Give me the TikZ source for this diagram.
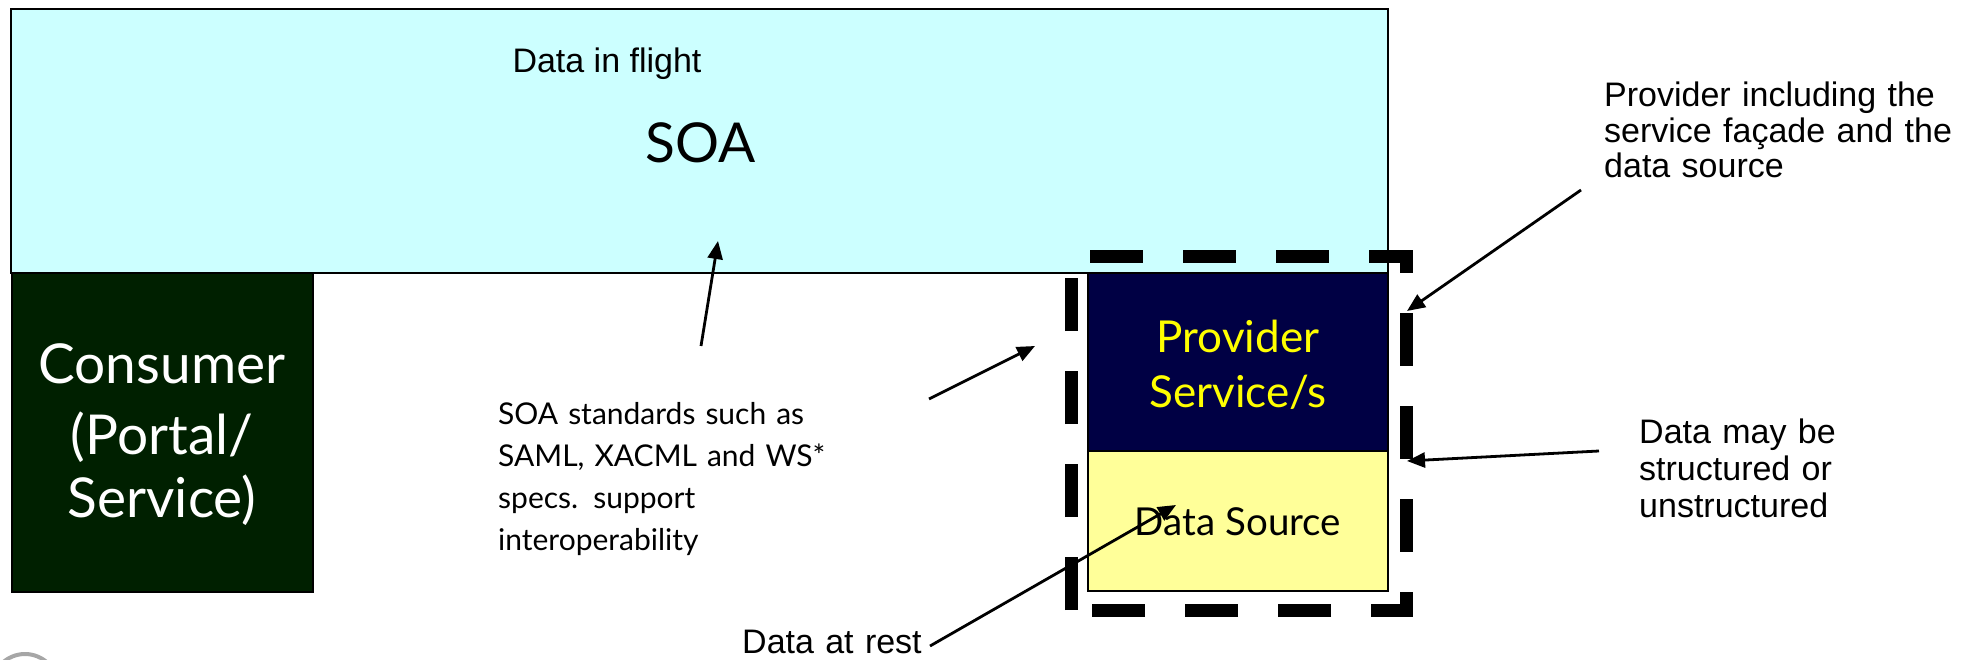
\documentclass[tikz,border=0pt]{standalone}
\usepackage{fontspec}
\setmainfont{Liberation Sans}
\newfontfamily\gillfont{Lato}
\usetikzlibrary{arrows.meta}

\definecolor{soacyan}{HTML}{CCFFFF}
\definecolor{consgreen}{HTML}{002000}
\definecolor{provnavy}{HTML}{000044}
\definecolor{srcyellow}{HTML}{FFFF99}
\definecolor{provtext}{HTML}{FFFF00}

\begin{document}
\begin{tikzpicture}[x=1pt,y=-1pt,
  box/.style={draw=black, line width=2.5pt, anchor=north west,
    inner sep=0pt, outer sep=0pt},
  arialtext/.style={font=\fontsize{34}{36.5}\selectfont, inner sep=0pt,
    text width=#1, align=left, anchor=base west},
  arialtext/.default=400pt,
  gilltext/.style 2 args={font=\gillfont\fontsize{#1}{#2}\selectfont, inner sep=0pt},
  pointer/.style={draw=black, line width=2.8pt,
    -{Triangle[length=18pt,width=15pt]}},
  scopeline/.style={draw=black, line width=13pt,
    dash pattern=on 53pt off 40pt, line join=miter}
]
\useasboundingbox (0,0) rectangle (1961,660);

% main boxes
\node[box, fill=soacyan, minimum width=1377pt, minimum height=264pt] (soa) at (11,9) {};
\node[box, fill=consgreen, minimum width=301pt, minimum height=319pt] (consumer) at (12,273) {};
\node[box, fill=provnavy, minimum width=300pt, minimum height=178pt] (provider) at (1088,273) {};
\node[box, fill=srcyellow, minimum width=300pt, minimum height=140pt] (source) at (1088,451) {};

% texts inside the boxes
\node[font=\fontsize{34}{36.5}\selectfont, inner sep=0pt, anchor=base] (flight) at (607,73) {Data in flight};
\node[gilltext={55}{64}, anchor=base] (soalabel) at (701,163) {SOA};
\node[gilltext={55}{67}, text=white, text width=300pt, align=center, anchor=base] (conslabel) at (162,383)
  {Consumer\\[4pt](Portal/\\[-4pt]Service)};
\node[gilltext={44}{55}, text=provtext, text width=300pt, align=center, anchor=base] (provlabel) at (1238,352)
  {Provider\\Service/s};
\node[gilltext={38.5}{44}, anchor=base] (srclabel) at (1238,535) {Data Source};

% annotations
\node[gilltext={30}{42.3}, text width=380pt, align=left, anchor=base west] (standards) at (498,424)
  {SOA standards such as\\SAML, XACML and WS*\\specs. support\\interoperability};
\node[arialtext] (rest) at (742,653) {Data at rest};
\node[arialtext, font=\fontsize{34}{35.5}\selectfont] (provnote) at (1604,107)
  {Provider including the\\service façade and the\\data source};
\node[arialtext, font=\fontsize{34}{37}\selectfont] (datanote) at (1639,443)
  {Data may be\\structured or\\unstructured};

% provider boundary
\coordinate (bl) at (1071,610);
\coordinate (tl) at (1071,257);
\coordinate (tr) at (1406,257);
\coordinate (br) at (1406,610);
\draw[scopeline] (bl) -- (tl) -- (tr) -- (br) -- cycle;

% pointer ends
\coordinate (p1s) at (701,346);
\coordinate (p1e) at (718,241);
\coordinate (p2s) at (929,399);
\coordinate (p2e) at (1035,346);
\coordinate (p3s) at (930,646);
\coordinate (p3e) at (1176,505);
\coordinate (p4s) at (1581,190);
\coordinate (p4e) at (1407,311);
\coordinate (p5s) at (1599,451);
\coordinate (p5e) at (1407,461);

\draw[pointer] (p1s) -- (p1e);
\draw[pointer] (p2s) -- (p2e);
\draw[pointer] (p3s) -- (p3e);
\draw[pointer] (p4s) -- (p4e);
\draw[pointer] (p5s) -- (p5e);

% page marker in the corner
\draw[gray!70, line width=4pt] (25,687) circle[radius=33pt];
\end{tikzpicture}
\end{document}
